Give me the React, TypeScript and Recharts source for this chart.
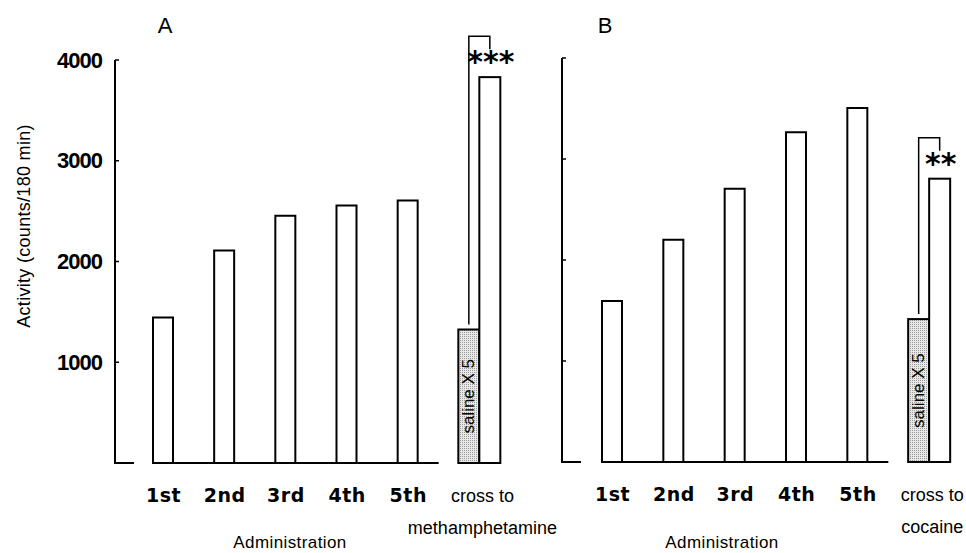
import React from "react";
import { Bar, ComposedChart, XAxis, YAxis } from "recharts";

const categories = ["1st", "2nd", "3rd", "4th", "5th", "cross"];
const yTicks = [0, 1000, 2000, 3000, 4000];

// panel A: methamphetamine
const aRepeated = [1445, 2110, 2455, 2555, 2605];
const aSaline = 1325;
const aDrug = 3830;
const aCrossLabel = ["cross to", "methamphetamine"];
const aStars = "***";

// panel B: cocaine
const bRepeated = [1595, 2200, 2705, 3265, 3505];
const bSaline = 1415;
const bDrug = 2805;
const bCrossLabel = ["cross to", "cocaine"];
const bStars = "**";

const salineLabel = "saline X 5";
const yLabel = "Activity (counts/180 min)";
const xLabel = "Administration";

const SANS = "'Liberation Sans', Arial, sans-serif";
const DEJA = "'DejaVu Sans', sans-serif";
const PAIR_SHIFT = 10.5;

function buildRows(repeated: number[], saline: number, drug: number) {
  return categories.map((name, i) =>
    i < repeated.length ? { name, value: repeated[i] } : { name, saline, drug }
  );
}

function makePlainBar(lastIndex: number) {
  return (props: any) => {
    const { x, y, width, height, index } = props;
    if (!height) return null;
    const bottom = y + height;
    const tail = index === lastIndex ? 21 : 41;
    return (
      <g>
        <path
          d={`M${x},${bottom} V${y} H${x + width} V${bottom}`}
          fill="#fff"
          stroke="#000"
          strokeWidth={2}
        />
        <line x1={x - 1} y1={bottom} x2={x + width + tail} y2={bottom} stroke="#000" strokeWidth={2} />
      </g>
    );
  };
}

function makeSalineBar(patternId: string) {
  return (props: any) => {
    const { x, y, width, height } = props;
    if (!height) return null;
    const x0 = x + PAIR_SHIFT;
    const cx = x0 + width / 2;
    const cy = y + height / 2;
    return (
      <g>
        <rect x={x0} y={y} width={width} height={height} fill={`url(#${patternId})`} stroke="#000" strokeWidth={2} />
        <text
          x={cx}
          y={cy}
          transform={`rotate(-90 ${cx} ${cy})`}
          textAnchor="middle"
          dominantBaseline="central"
          fontSize={17}
          fontFamily={SANS}
          fill="#000"
        >
          {salineLabel}
        </text>
      </g>
    );
  };
}

function makeDrugBar(stars: string) {
  return (props: any) => {
    const { x, y, width, height, payload } = props;
    if (!height) return null;
    const x0 = x + PAIR_SHIFT;
    const bottom = y + height;
    const ppu = height / payload.drug;
    const salineTop = bottom - payload.saline * ppu;
    const salineCx = x0 - width / 2;
    const cx = x0 + width / 2;
    const top = y - 41;
    return (
      <g>
        <rect x={x0} y={y} width={width} height={height} fill="#fff" stroke="#000" strokeWidth={2} />
        <path
          d={`M${salineCx},${salineTop - 5} V${top} H${cx} V${y - 28}`}
          fill="none"
          stroke="#000"
          strokeWidth={1.5}
        />
        <text x={cx + 1} y={y - 5} textAnchor="middle" fontSize={30} fontWeight="bold" fontFamily={DEJA} fill="#000">
          {stars}
        </text>
      </g>
    );
  };
}

function makeXTick(crossLabel: string[]) {
  return (props: any) => {
    const { x, y, payload } = props;
    if (payload.value === "cross") {
      return (
        <g>
          <text x={x + 14} y={y + 39} textAnchor="middle" fontSize={18} fontFamily={SANS} fill="#000">
            {crossLabel[0]}
          </text>
          <text x={x + 14} y={y + 71} textAnchor="middle" fontSize={18} fontFamily={SANS} fill="#000">
            {crossLabel[1]}
          </text>
        </g>
      );
    }
    return (
      <text x={x + 1} y={y + 39} textAnchor="middle" fontSize={19} fontWeight="bold" fontFamily={DEJA} fill="#000" letterSpacing={0.5}>
        {payload.value}
      </text>
    );
  };
}

function makeYTick(showLabels: boolean, footLen: number) {
  return (props: any) => {
    const { x, y, payload } = props;
    const v = payload.value;
    if (v === 0) {
      return <line x1={x - 1} y1={y} x2={x + footLen} y2={y} stroke="#000" strokeWidth={2} />;
    }
    return (
      <g>
        <line x1={x} y1={y} x2={x + 4} y2={y} stroke="#000" strokeWidth={1.5} />
        {showLabels && (
          <text
            x={x - 13}
            y={y}
            textAnchor="end"
            dominantBaseline="central"
            fontSize={22}
            fontWeight="bold"
            fontFamily={SANS}
            letterSpacing={-1}
            fill="#000"
          >
            {v}
          </text>
        )}
      </g>
    );
  };
}

interface PanelProps {
  rows: any[];
  width: number;
  top: number;
  axisHeight: number;
  yWidth: number;
  padLeft: number;
  right: number;
  showLabels: boolean;
  crossLabel: string[];
  stars: string;
  patternId: string;
  lastIndex: number;
}

function Panel(p: PanelProps) {
  return (
    <ComposedChart
      width={p.width}
      height={553}
      data={p.rows}
      margin={{ top: p.top, right: p.right, bottom: 0, left: 0 }}
      barGap={0}
      barCategoryGap={0}
    >
      <defs>
        <pattern id={p.patternId} width={2} height={2} patternUnits="userSpaceOnUse">
          <rect width={2} height={2} fill="#e8e8e8" />
          <rect width={1} height={1} fill="#9a9a9a" />
        </pattern>
      </defs>
      <XAxis
        xAxisId="main"
        dataKey="name"
        height={p.axisHeight}
        axisLine={false}
        tickLine={false}
        tickSize={0}
        tickMargin={0}
        interval={0}
        padding={{ left: p.padLeft, right: 0 }}
        tick={makeXTick(p.crossLabel)}
      />
      <XAxis xAxisId="pair" dataKey="name" hide padding={{ left: p.padLeft, right: 0 }} />
      <YAxis
        type="number"
        domain={[0, 4000]}
        ticks={yTicks}
        interval={0}
        width={p.yWidth}
        tickSize={0}
        tickMargin={0}
        tickLine={false}
        axisLine={{ stroke: "#000", strokeWidth: 2 }}
        tick={makeYTick(p.showLabels, 19)}
      />
      <Bar xAxisId="main" dataKey="value" barSize={20} shape={makePlainBar(p.lastIndex)} isAnimationActive={false} />
      <Bar xAxisId="pair" dataKey="saline" barSize={21} shape={makeSalineBar(p.patternId)} isAnimationActive={false} />
      <Bar xAxisId="pair" dataKey="drug" barSize={21} shape={makeDrugBar(p.stars)} isAnimationActive={false} />
    </ComposedChart>
  );
}

export default function App() {
  const rowsA = buildRows(aRepeated, aSaline, aDrug);
  const rowsB = buildRows(bRepeated, bSaline, bDrug);
  return (
    <div style={{ position: "absolute", left: 0, top: 0, width: 966, height: 553, background: "#fff", overflow: "hidden" }}>
      <div style={{ position: "absolute", left: 0, top: 0 }}>
        <Panel
          rows={rowsA}
          width={580}
          top={60}
          axisHeight={90}
          yWidth={115}
          padLeft={17}
          right={81}
          showLabels
          crossLabel={aCrossLabel}
          stars={aStars}
          patternId="stippleA"
          lastIndex={aRepeated.length - 1}
        />
      </div>
      <div style={{ position: "absolute", left: 450, top: 0 }}>
        <Panel
          rows={rowsB}
          width={516}
          top={58}
          axisHeight={91}
          yWidth={112}
          padLeft={19}
          right={17}
          showLabels={false}
          crossLabel={bCrossLabel}
          stars={bStars}
          patternId="stippleB"
          lastIndex={bRepeated.length - 1}
        />
      </div>
      <svg width={966} height={553} style={{ position: "absolute", left: 0, top: 0, pointerEvents: "none" }}>
        <text x={165} y={33} textAnchor="middle" fontSize={22} fontFamily={SANS} fill="#000">A</text>
        <text x={605} y={33} textAnchor="middle" fontSize={22} fontFamily={SANS} fill="#000">B</text>
        <text
          x={24}
          y={226}
          transform="rotate(-90 24 226)"
          textAnchor="middle"
          dominantBaseline="central"
          fontSize={18}
          fontFamily={SANS}
          letterSpacing={0.3}
          fill="#000"
        >
          {yLabel}
        </text>
        <text x={290} y={548} textAnchor="middle" fontSize={17} fontFamily={SANS} letterSpacing={0.4} fill="#000">{xLabel}</text>
        <text x={722} y={548} textAnchor="middle" fontSize={17} fontFamily={SANS} letterSpacing={0.4} fill="#000">{xLabel}</text>
      </svg>
    </div>
  );
}
